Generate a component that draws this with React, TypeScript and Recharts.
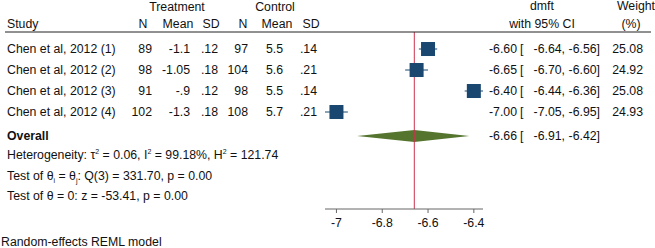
import React from "react";
import {
  ComposedChart,
  Scatter,
  ErrorBar,
  XAxis,
  YAxis,
  ReferenceLine,
  ReferenceArea,
} from "recharts";

const studies = [
  "Chen et al, 2012 (1)",
  "Chen et al, 2012 (2)",
  "Chen et al, 2012 (3)",
  "Chen et al, 2012 (4)",
];
const treatN = [89, 98, 91, 102];
const treatMean = [-1.1, -1.05, -0.9, -1.3];
const treatSD = [0.12, 0.18, 0.12, 0.18];
const ctrlN = [97, 104, 98, 108];
const ctrlMean = [5.5, 5.6, 5.5, 5.7];
const ctrlSD = [0.14, 0.21, 0.14, 0.21];
const effect = [-6.6, -6.65, -6.4, -7.0];
const ciLow = [-6.64, -6.7, -6.44, -7.05];
const ciHigh = [-6.56, -6.6, -6.36, -6.95];
const weights = [25.08, 24.92, 25.08, 24.93];

const overall = { est: -6.66, lo: -6.91, hi: -6.42 };
const xTicks = [-7, -6.8, -6.6, -6.4];
const xDomain = [-7.05, -6.36];

const W = 655;
const H = 248;
const FONT = "'Liberation Sans', Arial, sans-serif";
const FS = 12.3;
const NAVY = "#1a476f";
const GREEN = "#55752f";
const RED = "#c8324f";

// row layout (row units -> pixels)
const TOP = 32;
const ROW_H = 21;
const ROW0 = 0.19;
const BOTTOM = 209;
const overallRow = 5.14;
const rowY = (r: number) => TOP + (r - ROW0) * ROW_H;

// stata-ish number formatting: drop leading zero
const fmt = (v: number) => {
  const s = String(v);
  return s.replace(/^(-?)0\./, "$1.");
};

const points = effect.map((e, i) => ({
  x: e,
  y: i + 1,
  err: [e - ciLow[i], ciHigh[i] - e],
}));

const Square = (props: any) => {
  const { cx, cy } = props;
  const s = 14;
  return <rect x={cx - s / 2} y={cy - s / 2} width={s} height={s} fill={NAVY} />;
};

const Diamond = (props: any) => {
  const { x, y, width, height } = props;
  const xe = x + (width * (overall.est - overall.lo)) / (overall.hi - overall.lo);
  const pts = [
    [x, y + height / 2],
    [xe, y],
    [x + width, y + height / 2],
    [xe, y + height],
  ]
    .map((p) => p.join(","))
    .join(" ");
  return <polygon points={pts} fill={GREEN} />;
};

function Sup({ children }: { children: React.ReactNode }) {
  return (
    <tspan fontSize={7} dy={-5}>
      {children}
    </tspan>
  );
}

function TextLayer() {
  const t = { fontFamily: FONT, fontSize: FS, fill: "#111" } as const;
  const mid = (x: number, y: number, s: string) => (
    <text x={x} y={y} dy="0.35em" textAnchor="middle" {...t}>
      {s}
    </text>
  );
  const end = (x: number, y: number, s: string) => (
    <text x={x} y={y} dy="0.35em" textAnchor="end" {...t}>
      {s}
    </text>
  );
  const ciCells = (y: number, e: number, lo: number, hi: number) => (
    <>
      {end(517, y, e.toFixed(2))}
      <text x={520} y={y} dy="0.35em" {...t}>
        [
      </text>
      {end(565, y, lo.toFixed(2) + ",")}
      {end(600, y, hi.toFixed(2) + "]")}
    </>
  );
  const statY = [155, 176, 196];
  return (
    <svg
      width={W}
      height={H}
      style={{ position: "absolute", left: 0, top: 0, pointerEvents: "none" }}
    >
      {mid(177, 7, "Treatment")}
      {mid(275, 7, "Control")}
      {mid(542, 6, "dmft")}
      {mid(636, 6, "Weight")}
      <text x={7} y={24} dy="0.35em" {...t}>
        Study
      </text>
      {mid(143, 24, "N")}
      {mid(178, 24, "Mean")}
      {mid(211, 24, "SD")}
      {mid(243, 24, "N")}
      {mid(277, 24, "Mean")}
      {mid(311, 24, "SD")}
      {mid(542, 24, "with 95% CI")}
      {mid(631, 24, "(%)")}
      <line x1={5} x2={651} y1={32} y2={32} stroke="#222" strokeWidth={1} />
      {studies.map((s, i) => {
        const y = rowY(i + 1);
        return (
          <g key={s}>
            <text x={7} y={y} dy="0.35em" {...t}>
              {s}
            </text>
            {end(152, y, String(treatN[i]))}
            {end(190, y, fmt(treatMean[i]))}
            {end(218, y, fmt(treatSD[i]))}
            {end(248, y, String(ctrlN[i]))}
            {end(283, y, fmt(ctrlMean[i]))}
            {end(317, y, fmt(ctrlSD[i]))}
            {ciCells(y, effect[i], ciLow[i], ciHigh[i])}
            {end(643, y, weights[i].toFixed(2))}
          </g>
        );
      })}
      <text x={7} y={rowY(overallRow)} dy="0.35em" {...t} fontWeight="bold">
        Overall
      </text>
      {ciCells(rowY(overallRow), overall.est, overall.lo, overall.hi)}
      <text x={7} y={statY[0]} dy="0.35em" {...t}>
        Heterogeneity: τ<Sup>2</Sup>
        <tspan dy={5}> = 0.06, I</tspan>
        <Sup>2</Sup>
        <tspan dy={5}> = 99.18%, H</tspan>
        <Sup>2</Sup>
        <tspan dy={5}> = 121.74</tspan>
      </text>
      <text x={7} y={statY[1]} dy="0.35em" {...t}>
        Test of θ
        <tspan fontSize={7} dy={3}>
          i
        </tspan>
        <tspan dy={-3}> = θ</tspan>
        <tspan fontSize={7} dy={3}>
          j
        </tspan>
        <tspan dy={-3}>: Q(3) = 331.70, p = 0.00</tspan>
      </text>
      <text x={7} y={statY[2]} dy="0.35em" {...t}>
        Test of θ = 0: z = -53.41, p = 0.00
      </text>
      <text x={1} y={242} dy="0.35em" {...t}>
        Random-effects REML model
      </text>
    </svg>
  );
}

export default function App() {
  return (
    <div
      style={{
        position: "absolute",
        left: 0,
        top: 0,
        width: W,
        height: H,
        background: "#fff",
      }}
    >
      <ComposedChart
        width={W}
        height={H}
        data={points}
        margin={{ top: TOP, left: 325, right: W - 483, bottom: H - BOTTOM - 30 }}
      >
        <XAxis
          type="number"
          dataKey="x"
          domain={xDomain}
          ticks={xTicks}
          allowDataOverflow
          height={30}
          stroke="#666"
          tickSize={4}
          tickMargin={5}
          tick={{ fill: "#111", fontSize: FS, fontFamily: FONT }}
        />
        <YAxis
          type="number"
          dataKey="y"
          hide
          reversed
          domain={[ROW0, ROW0 + (BOTTOM - TOP) / ROW_H]}
          allowDataOverflow
        />
        <ReferenceArea
          x1={overall.lo}
          x2={overall.hi}
          y1={overallRow - 6 / ROW_H}
          y2={overallRow + 6 / ROW_H}
          ifOverflow="visible"
          shape={Diamond}
        />
        <ReferenceLine x={overall.est} stroke={RED} strokeWidth={1} />
        <Scatter data={points} shape={Square} isAnimationActive={false}>
          <ErrorBar
            dataKey="err"
            direction="x"
            width={0}
            stroke={NAVY}
            strokeWidth={1}
            isAnimationActive={false}
          />
        </Scatter>
      </ComposedChart>
      <TextLayer />
    </div>
  );
}
